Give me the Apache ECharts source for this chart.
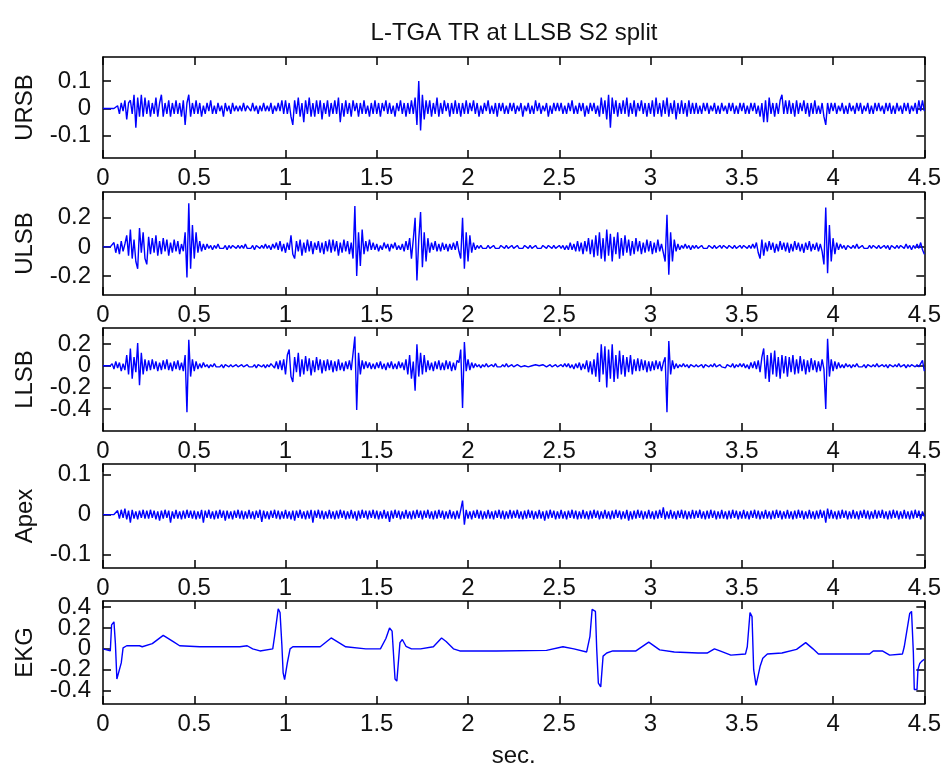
<!DOCTYPE html>
<html lang="en">
<head>
<meta charset="UTF-8">
<title>L-TGA TR at LLSB S2 split</title>
<script src="https://cdn.jsdelivr.net/npm/echarts@6/dist/echarts.min.js"></script>
<style>
  html, body { margin: 0; padding: 0; background: #fff; }
  #chart { width: 944px; height: 771px; }
</style>
</head>
<body>
<div id="chart"></div>
<script>
// phono channels, one value every 10 ms (one row = 0.25 s)
const dt = 0.01;

const ursb = [
  0,0,0,0,0,0,0,0,.01,-.02,.02,-.01,.03,-.04,.02,.03,-.02,.05,-.07,.04,-.03,.05,-.03,.04,-.02,
  .03,-.03,.02,-.02,.04,-.03,.02,.05,-.03,.02,-.02,.03,-.03,.02,-.02,.03,-.02,.02,-.03,.03,-.06,.02,.05,-.03,.02,
  -.02,.03,-.02,.02,-.03,.01,-.02,.02,-.01,.03,-.02,.01,-.02,.02,-.01,.01,-.03,.02,-.01,.01,-.02,.02,-.01,.01,-.01,
  .01,-.01,.02,-.01,.01,0,-.01,.02,-.01,.01,-.02,.01,-.01,.02,-.01,.01,-.01,.02,-.02,.01,-.01,.02,-.01,.03,-.02,
  .03,-.02,.02,-.03,-.06,.03,-.02,.04,-.03,.02,-.05,.03,-.02,.04,-.03,.02,-.03,.03,-.02,.03,-.04,.02,-.02,.03,-.03,
  .02,-.02,.03,-.02,.04,-.05,.02,-.03,.03,-.02,.02,-.03,.03,-.01,.02,-.03,.02,-.02,.03,-.02,.01,-.03,.02,-.02,.03,
  -.02,.02,-.03,.02,-.01,.03,-.02,.02,-.02,.01,-.03,.02,-.01,.03,-.02,.02,-.03,.02,-.02,.03,-.02,.04,-.06,.1,-.08,
  .05,-.04,.03,-.02,.03,-.03,.02,-.02,.04,-.03,.02,-.02,.03,-.01,.02,-.03,.02,-.02,.03,-.02,.02,-.03,.02,-.02,.03,
  -.02,.02,-.01,.03,-.02,.02,-.03,.01,-.02,.02,-.01,.03,-.02,.01,-.02,.02,-.03,.02,-.01,.02,-.02,.01,-.02,.02,-.01,
  .02,-.02,.01,-.01,.02,-.03,.01,-.01,.02,-.02,.01,-.02,.03,-.01,.02,-.02,.01,-.01,.02,-.03,.01,-.02,.02,-.01,.02,
  -.01,.02,-.02,.01,-.02,.02,-.01,.03,-.02,.01,-.02,.02,-.01,.02,-.03,.01,-.02,.02,-.01,.02,-.02,.01,-.03,.04,-.02,
  .03,-.04,.05,-.07,.04,-.02,.03,-.03,.02,-.02,.03,-.02,.04,-.03,.02,-.02,.03,-.03,.02,-.01,.03,-.02,.02,-.03,.02,
  -.02,.03,-.03,.04,-.02,.02,-.03,.03,-.02,.04,-.03,.02,-.02,.03,-.04,.02,-.02,.03,-.02,.02,-.03,.03,-.02,.02,-.02,
  .02,-.02,.01,-.02,.02,-.01,.02,-.02,.01,-.01,.02,-.02,.01,-.02,.02,-.01,.01,-.02,.02,-.01,.02,-.02,.01,-.02,.02,
  -.01,.02,-.02,.01,-.02,.02,-.01,.02,-.02,.01,-.03,.02,-.05,.03,-.05,.04,-.02,.02,-.03,.02,-.02,.03,.05,-.02,.03,
  -.02,.03,-.02,.02,-.03,.03,-.02,.02,-.01,.03,-.02,.02,-.03,.02,-.02,.03,-.02,.01,-.02,.02,-.03,-.06,.02,-.02,.02,
  -.01,.02,-.02,.01,-.01,.02,-.02,.01,-.02,.02,-.01,.01,-.02,.02,-.01,.02,-.02,.01,-.01,.02,-.02,.01,-.02,.02,-.01,
  .02,-.01,.01,-.02,.02,-.01,.02,-.02,.01,-.02,.02,-.01,.01,-.02,.02,-.01,.02,-.02,.01,-.01,.02,-.02,.03,-.01,.03,
  -.01
];

const ulsb = [
  0,0,0,0,0,0,.03,-.04,.02,-.05,.04,-.03,.02,.08,-.06,.12,-.08,.05,-.1,-.15,.13,-.04,.1,-.08,-.12,
  .07,-.05,.06,-.04,.08,-.06,.04,-.05,.06,-.03,.05,-.06,.03,-.04,.05,-.03,.04,-.05,.02,-.03,.1,-.21,.3,-.15,.15,
  -.08,.1,-.04,.04,-.03,.02,-.02,.02,-.01,.01,-.02,.01,-.01,.02,-.01,0,-.01,.01,-.02,.01,-.01,.01,0,-.01,.01,
  -.01,.01,-.01,.02,-.01,0,-.01,.01,-.02,.01,0,-.01,.01,-.01,.02,-.01,.01,-.02,.02,-.01,.03,-.02,.04,-.03,.02,
  -.04,.03,-.02,.08,-.05,-.08,.04,-.03,.05,-.06,.03,-.04,.05,-.03,.04,-.05,.03,-.02,.04,-.04,.03,-.05,.04,-.03,.05,
  -.04,.05,-.03,.04,-.06,.03,-.04,.05,-.03,.04,-.05,.03,-.08,.28,-.2,.1,-.13,.12,-.05,.04,-.03,.05,-.02,.03,-.02,
  .02,-.03,.01,-.02,.03,-.01,.02,-.03,.02,-.01,.03,-.02,.01,-.02,.02,-.03,.04,-.02,.06,-.08,.05,.2,-.23,.05,.24,
  -.14,.1,-.1,.06,-.04,.03,-.02,.04,-.03,.02,-.03,.03,-.02,.02,-.03,.02,-.02,.03,-.02,.04,-.03,-.08,.2,-.15,.1,
  -.1,.08,-.04,.03,-.02,.01,-.01,.01,-.01,0,-.01,.01,-.01,0,.01,-.01,0,-.01,.01,0,-.01,.01,-.01,0,.01,
  -.01,0,.01,-.01,0,-.01,.01,0,-.01,.01,-.01,0,.01,-.01,0,-.01,.01,0,-.01,.01,0,-.01,.01,-.01,0,
  .01,-.01,.01,-.02,.01,-.02,.03,-.02,.02,-.03,.04,-.03,.03,-.05,.04,-.03,.06,-.05,.05,-.07,.08,-.06,.1,-.08,.06,
  -.1,.12,-.06,.09,-.1,.07,-.05,.1,-.08,.06,-.06,.08,-.04,.05,-.06,.04,-.05,.06,-.03,.04,-.05,.03,-.04,.05,-.03,
  .04,-.05,.03,-.04,.05,-.03,.02,-.04,-.1,.22,-.19,.1,-.1,.05,-.03,.02,-.02,.01,-.01,.02,-.01,.01,-.02,.01,-.01,
  .01,-.01,0,.01,-.01,0,-.01,.01,0,-.01,.01,-.01,0,.01,-.01,.01,0,-.01,.01,0,-.01,.01,-.01,0,.01,
  -.01,.01,0,-.01,.01,-.01,.02,-.01,.03,-.04,-.08,.05,-.06,.03,-.03,.04,-.02,.03,-.04,.02,-.03,.04,-.02,.03,-.03,
  .03,-.04,.02,-.03,.04,-.02,.03,-.03,.02,-.04,.03,-.02,.04,-.03,.02,-.02,.03,-.03,.02,-.03,-.12,.27,-.18,.15,-.1,
  .06,-.05,.03,-.02,.02,-.01,.01,-.02,.01,0,-.01,.01,-.01,.02,-.01,0,.01,-.01,0,-.01,.01,-.01,.01,0,-.01,
  .01,-.01,0,.01,-.01,.01,-.02,.01,0,-.01,.01,-.01,.01,0,-.01,.02,-.01,.01,-.02,.01,-.01,.02,-.01,.03,-.02,
  -.05
];

const llsb = [
  0,0,0,0,0,.02,-.03,.04,-.02,.03,-.05,.02,-.04,.1,-.08,.16,-.12,.08,-.06,.21,-.18,.12,-.08,.06,-.05,
  .05,-.04,.06,-.03,.04,-.05,.03,-.04,.05,-.03,.06,-.04,.03,-.05,.04,-.03,.05,-.04,.03,-.05,.1,-.43,.24,-.1,.06,
  -.05,.04,-.03,.02,-.02,.03,-.01,.01,-.02,.01,-.01,.02,-.01,0,-.01,.01,-.02,.01,0,-.01,.01,-.01,0,.01,-.01,
  0,.01,-.01,0,.01,-.01,0,-.01,.01,-.02,.01,0,-.01,.01,-.02,.01,-.01,.02,.03,-.02,.04,-.03,.05,-.04,.06,
  -.08,.1,.15,-.1,-.15,.08,-.06,.12,-.1,.06,-.08,.09,-.05,.07,-.09,.05,-.06,.08,-.04,.06,-.07,.05,-.05,.06,-.04,
  .05,-.06,.04,-.05,.06,-.04,.03,-.05,.04,-.03,.05,-.04,-.05,.27,-.41,.12,-.08,.05,-.03,.04,-.02,.03,-.03,.02,-.03,
  .03,-.02,.04,-.03,.02,-.04,.03,-.02,.04,-.03,.02,-.03,.04,-.02,.03,-.04,.06,-.08,.1,-.12,.04,-.23,.2,-.1,.12,
  -.08,.1,-.06,.05,-.04,.03,-.05,.04,-.03,.05,-.04,.03,-.04,.05,-.03,.04,-.05,.03,-.04,.05,.03,.15,-.39,.22,-.05,
  .06,-.04,.03,-.02,.02,-.01,.01,-.02,.01,-.01,.02,-.01,0,.01,-.01,.02,-.01,0,-.01,.01,-.01,.02,-.01,0,.01,
  -.01,0,.01,0,-.01,0,0,.01,-.01,0,0,-.01,.01,0,0,-.01,.01,0,-.01,0,.01,-.01,0,.01,-.01,
  0,.01,-.01,.02,-.01,.02,-.02,.01,-.03,.02,-.02,.03,-.04,.02,-.03,.05,-.06,.04,-.08,.06,-.1,.12,-.15,.2,-.08,
  .18,-.2,.15,-.12,.2,-.15,.1,-.12,.14,-.08,.1,-.1,.08,-.06,.1,-.08,.06,-.05,.07,-.05,.06,-.04,.05,-.06,.04,
  -.05,.04,-.04,.05,-.03,.04,-.05,.03,.08,-.43,.23,-.08,.05,-.03,.02,-.02,.01,-.01,.02,-.01,.01,-.02,.01,0,-.01,
  .01,-.01,0,.01,-.02,.01,0,-.01,.01,-.01,.02,-.01,0,.01,-.01,0,-.02,.01,.01,-.01,.02,-.02,.01,-.01,.02,
  -.01,.02,-.02,.01,-.03,.03,-.02,.04,-.03,.05,-.06,.08,.16,-.12,.1,-.15,.12,-.08,.14,-.1,.08,-.12,.1,-.07,.09,
  -.1,.08,-.06,.1,-.08,.06,-.07,.09,-.05,.06,-.08,.05,-.06,.07,-.04,.05,-.06,.04,-.05,.06,-.03,-.4,.25,-.1,.06,
  -.05,.04,-.03,.03,-.02,.01,-.02,.02,-.01,.01,-.02,.01,-.01,.02,-.01,0,-.01,.01,-.02,.01,0,-.01,.01,-.01,.02,
  -.01,0,.01,-.01,.01,-.02,.01,0,-.01,.01,-.01,.02,-.01,0,.01,-.02,.01,-.01,.01,0,-.01,.01,-.01,.02,.05,
  -.05
];

const apex = [
  0,0,0,0,0,0,0,0,.01,-.01,.012,-.008,.015,-.012,.01,-.02,.012,-.01,.008,-.012,.01,-.008,.012,-.01,.01,
  -.01,.012,-.008,.01,-.012,.008,-.015,.01,-.01,.012,-.008,.01,-.02,.008,-.01,.012,-.01,.008,-.012,.01,-.01,.012,-.008,.01,-.01,
  .01,-.012,.008,-.01,.012,-.02,.01,-.008,.012,-.01,.008,-.012,.01,-.01,.012,-.008,.01,-.015,.01,-.01,.008,-.012,.01,-.008,.012,
  -.01,.01,-.012,.008,-.01,.012,-.01,.008,-.012,.01,-.008,.012,-.018,.01,-.01,.008,-.012,.01,-.008,.012,-.01,.01,-.012,.008,-.01,
  .012,-.01,.008,-.012,.01,-.015,.01,-.008,.012,-.01,.008,-.012,.01,-.01,.012,-.02,.01,-.008,.012,-.01,.01,-.012,.008,-.01,.012,
  -.01,.008,-.012,.01,-.01,.012,-.008,.01,-.012,.008,-.01,.012,-.01,.008,-.015,.01,-.01,.012,-.008,.01,-.012,.01,-.008,.012,-.01,
  .01,-.012,.008,-.01,.012,-.01,.008,-.018,.01,-.01,.012,-.008,.01,-.012,.008,-.01,.012,-.01,.008,-.012,.01,-.01,.012,-.008,.01,
  -.012,.01,-.008,.012,-.01,.008,-.012,.01,-.01,.012,-.008,.01,-.012,.008,-.01,.012,-.01,.008,-.012,.01,-.01,.012,.035,-.025,.012,
  -.01,.008,-.012,.01,-.008,.012,-.01,.01,-.012,.008,-.01,.012,-.01,.008,-.012,.01,-.008,.012,-.01,.01,-.012,.008,-.01,.012,-.01,
  .01,-.008,.012,-.01,.008,-.012,.01,-.01,.012,-.008,.01,-.012,.008,-.01,.012,-.01,.008,-.015,.01,-.01,.012,-.008,.01,-.012,.008,
  -.01,.012,-.01,.008,-.012,.01,-.008,.012,-.01,.01,-.012,.008,-.01,.012,-.01,.008,-.012,.01,-.01,.012,-.008,.01,-.012,.008,-.01,
  .012,-.01,.008,-.012,.01,-.01,.012,-.008,.01,-.012,.008,-.01,.012,-.015,.008,-.012,.01,-.01,.012,-.008,.01,-.012,.008,-.01,.012,
  -.01,.008,-.012,.01,-.01,.012,-.008,.018,-.012,.008,-.01,.012,-.01,.008,-.012,.01,-.008,.012,-.01,.01,-.012,.008,-.01,.012,-.01,
  .01,-.008,.012,-.01,.008,-.012,.01,-.01,.012,-.008,.01,-.012,.008,-.01,.012,-.01,.008,-.012,.01,-.01,.012,-.008,.01,-.012,.008,
  -.01,.012,-.01,.008,-.012,.01,-.008,.012,-.01,.01,-.012,.008,-.01,.012,-.01,.008,-.012,.01,-.01,.012,-.008,.01,-.012,.008,-.01,
  .012,-.01,.008,-.012,.01,-.01,.012,-.008,.01,-.012,.008,-.01,.012,-.01,.008,-.012,.01,-.01,.012,-.008,.01,-.02,.015,-.01,.012,
  -.01,.008,-.012,.01,-.01,.012,-.008,.01,-.012,.008,-.01,.012,-.01,.008,-.012,.01,-.008,.012,-.01,.01,-.012,.008,-.01,.012,-.01,
  .01,-.008,.012,-.01,.008,-.012,.01,-.01,.012,-.008,.01,-.012,.008,-.01,.012,-.01,.008,-.012,.01,-.01,.012,-.008,.01,-.012,.008,
  -.005
];

// EKG: vertices (time in s, amplitude)
const ekgT = [0,.04,.047,.06,.068,.076,.085,.1,.11,.13,.2,.215,.27,.33,.385,.42,.53,.75,.79,.82,.86,.93,
  .94,.96,.97,.98,.987,.995,1.01,1.025,1.04,1.19,1.25,1.33,1.44,1.52,1.55,1.57,1.584,1.6,1.61,1.627,1.64,
  1.66,1.69,1.74,1.81,1.855,1.88,1.92,1.955,2.155,2.43,2.52,2.58,2.65,2.668,2.68,2.698,2.705,2.714,2.727,
  2.74,2.76,2.793,2.92,2.99,3.05,3.13,3.26,3.31,3.35,3.38,3.44,3.52,3.53,3.545,3.556,3.565,3.578,3.6,3.615,
  3.64,3.72,3.8,3.85,3.89,3.92,4.2,4.22,4.27,4.31,4.38,4.39,4.42,4.43,4.44,4.445,4.46,4.465,4.475,4.485,4.5];
const ekgV = [0,-.02,.23,.26,.05,-.29,-.3,-.135,.01,.03,.03,.02,.05,.13,.07,.03,.02,.02,.03,0,-.02,0,
  .12,.385,.35,.04,-.23,-.295,-.135,0,.02,.02,.105,.02,0,0,.1,.2,.17,-.29,-.31,.06,.09,
  .025,0,0,.02,.105,.07,0,-.02,-.02,-.015,.02,0,-.03,.12,.38,.36,0,-.33,-.365,
  -.07,-.04,-.02,-.02,.065,-.01,-.03,-.04,-.04,0,-.02,-.06,-.05,.02,.35,.31,-.2,-.35,-.17,-.09,
  -.05,-.04,-.005,.06,0,-.05,-.05,-.02,-.02,-.06,-.05,.02,.34,.36,-.04,-.39,-.39,-.2,-.14,-.12,-.1];

const names = ['URSB', 'ULSB', 'LLSB', 'Apex', 'EKG'];
const yTicks = [
  [-0.1, 0, 0.1],
  [-0.2, 0, 0.2],
  [-0.4, -0.2, 0, 0.2],
  [-0.1, 0, 0.1],
  [-0.4, -0.2, 0, 0.2, 0.4]
];
const xTickStep = 0.5;

const font = "'Liberation Sans', Arial, sans-serif";
const ink = '#111';

const toPairs = vals => vals.map((v, i) => [+(i * dt).toFixed(2), v]);
const series = [
  toPairs(ursb),
  toPairs(ulsb),
  toPairs(llsb),
  toPairs(apex),
  ekgT.map((t, i) => [t, ekgV[i]])
];

// layout of the five stacked axes
const panels = [
  { top: 57,  height: 101, min: -0.181, max: 0.188 },
  { top: 192, height: 103, min: -0.33,  max: 0.377 },
  { top: 328, height: 103, min: -0.604, max: 0.35 },
  { top: 464, height: 104, min: -0.133, max: 0.126 },
  { top: 601, height: 103, min: -0.53,  max: 0.46 }
];

const lineSt = { color: '#000', width: 1.5 };
const labelSt = { fontSize: 24, color: ink, fontFamily: font };
const grids = [], xAxes = [], yAxes = [], lines = [];

panels.forEach((p, i) => {
  grids.push({ left: 103, right: 19, top: p.top, height: p.height });

  const xBase = {
    type: 'value', gridIndex: i, min: 0, max: 4.5, interval: xTickStep,
    axisLine: { show: true, onZero: false, lineStyle: lineSt },
    axisTick: { show: true, inside: true, length: 8, lineStyle: lineSt },
    splitLine: { show: false }
  };
  xAxes.push(Object.assign({}, xBase, {
    position: 'bottom',
    axisLabel: Object.assign({ margin: 8 }, labelSt),
    name: i === 4 ? 'sec.' : '',
    nameLocation: 'middle', nameGap: 40,
    nameTextStyle: labelSt
  }));
  xAxes.push(Object.assign({}, xBase, { position: 'top', axisLabel: { show: false } }));

  // labels are split over two left axes so none of them gets dropped as overlapping
  const even = yTicks[i].filter((v, k) => k % 2 === 0);
  const odd = yTicks[i].filter((v, k) => k % 2 === 1);
  const yBase = {
    type: 'value', gridIndex: i, min: p.min, max: p.max,
    axisLine: { show: true, onZero: false, lineStyle: lineSt },
    axisTick: { show: true, inside: true, length: 8, lineStyle: lineSt, customValues: yTicks[i] },
    splitLine: { show: false }
  };
  yAxes.push(Object.assign({}, yBase, {
    position: 'left',
    axisLabel: Object.assign({ customValues: even, margin: 12 }, labelSt),
    name: names[i], nameLocation: 'middle', nameGap: 66, nameRotate: 90,
    nameTextStyle: labelSt
  }));
  yAxes.push(Object.assign({}, yBase, { position: 'right', axisLabel: { show: false } }));
  yAxes.push({
    type: 'value', gridIndex: i, min: p.min, max: p.max, position: 'left',
    axisLine: { show: false }, axisTick: { show: false }, splitLine: { show: false },
    axisLabel: Object.assign({ customValues: odd, margin: 12 }, labelSt)
  });

  lines.push({
    type: 'line', xAxisIndex: 2 * i, yAxisIndex: 3 * i,
    data: series[i], showSymbol: false, symbol: 'none',
    lineStyle: { color: '#0000ff', width: 1.4 },
    clip: true
  });
});

const chart = echarts.init(document.getElementById('chart'));
chart.setOption({
  animation: false,
  backgroundColor: '#fff',
  title: {
    text: 'L-TGA TR at LLSB S2 split',
    left: 509, top: 16, textAlign: 'center',
    textStyle: { fontSize: 24, fontWeight: 'normal', color: ink, fontFamily: font }
  },
  grid: grids,
  xAxis: xAxes,
  yAxis: yAxes,
  series: lines
});
</script>
</body>
</html>
